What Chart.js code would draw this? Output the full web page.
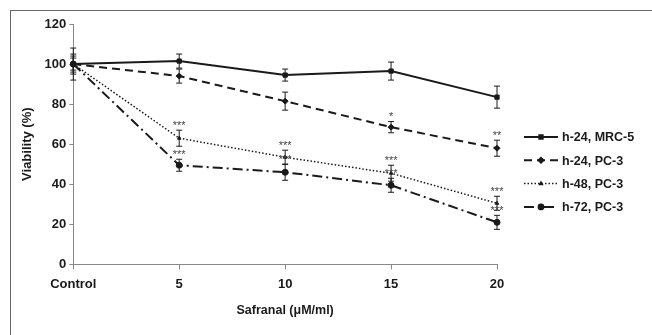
<!DOCTYPE html>
<html>
<head>
<meta charset="utf-8">
<script src="https://cdn.jsdelivr.net/npm/chart.js@4.4.1/dist/chart.umd.min.js"></script>
<style>
  html, body { margin: 0; padding: 0; background: #fff; overflow: hidden; }
  #marco { position: absolute; left: 10px; top: 10px; width: 700px; height: 400px; border: 1px solid #666; }
  #caja { position: absolute; left: 0; top: 0; width: 652px; height: 335px; }
</style>
</head>
<body>
<div id="marco"></div>
<div id="caja"><canvas id="grafico"></canvas></div>
<script>
// datos
const categorias = ['Control', '5', '10', '15', '20'];
const nombresSeries = ['h-24, MRC-5', 'h-24, PC-3', 'h-48, PC-3', 'h-72, PC-3'];

const mrc5_24 = [100, 101.5, 94.5, 96.5, 83.5];
const pc3_24 = [100, 94, 81.5, 68.5, 58];
const pc3_48 = [100, 63, 53.5, 45.5, 30.5];
const pc3_72 = [100, 49.5, 46, 39.5, 21];

const errMrc5_24 = [8, 3.5, 3, 4.5, 5.5];
const errPc3_24 = [5, 3.5, 4.5, 2.8, 4];
const errPc3_48 = [4, 4, 3.5, 4, 3.5];
const errPc3_72 = [3, 3, 4, 3.5, 3.5];

const estrellasMrc5_24 = ['', '', '', '', ''];
const estrellasPc3_24 = ['', '', '', '*', '**'];
const estrellasPc3_48 = ['', '***', '***', '***', '***'];
const estrellasPc3_72 = ['', '***', '***', '***', '***'];

const ticksY = [0, 20, 40, 60, 80, 100, 120];

const valores = [mrc5_24, pc3_24, pc3_48, pc3_72];
const errores = [errMrc5_24, errPc3_24, errPc3_48, errPc3_72];
const estrellas = [estrellasMrc5_24, estrellasPc3_24, estrellasPc3_48, estrellasPc3_72];

// estilos de cada serie
const estilos = [
    { dash: [], ancho: 2, punto: 'rect', radio: 3 },
    { dash: [8, 5], ancho: 2, punto: 'rectRot', radio: 3 },
    { dash: [1.5, 2], ancho: 1.5, punto: 'triangle', radio: 2 },
    { dash: [10, 4, 2, 4], ancho: 2, punto: 'circle', radio: 3 }
];

const fuente = 'Liberation Sans, Arial, sans-serif';
const negro = '#1a1a1a';

// barras de error y asteriscos
const pluginErrores = {
    id: 'errores',
    afterDatasetsDraw(chart) {
        const ctx = chart.ctx;
        const y = chart.scales.y;
        ctx.save();
        ctx.strokeStyle = negro;
        ctx.lineWidth = 1;
        chart.data.datasets.forEach((ds, i) => {
            const meta = chart.getDatasetMeta(i);
            meta.data.forEach((p, j) => {
                const v = ds.data[j];
                const e = errores[i][j];
                const yArriba = y.getPixelForValue(v + e);
                const yAbajo = y.getPixelForValue(v - e);
                ctx.beginPath();
                ctx.moveTo(p.x, yArriba); ctx.lineTo(p.x, yAbajo);
                ctx.moveTo(p.x - 3, yArriba); ctx.lineTo(p.x + 3, yArriba);
                ctx.moveTo(p.x - 3, yAbajo); ctx.lineTo(p.x + 3, yAbajo);
                ctx.stroke();
                let txt = estrellas[i][j];
                if (txt) {
                    ctx.fillStyle = '#444';
                    ctx.font = '11px ' + fuente;
                    ctx.textAlign = 'center';
                    ctx.textBaseline = 'bottom';
                    ctx.fillText(txt, p.x, yArriba + 1);
                }
            });
        });
        ctx.restore();
    }
};

// leyenda a la derecha con el estilo de linea
const pluginLeyenda = {
    id: 'leyenda',
    afterDraw(chart) {
        const ctx = chart.ctx;
        const x0 = chart.chartArea.right + 27;
        const y0 = 137;
        ctx.save();
        chart.data.datasets.forEach((ds, i) => {
            const yy = y0 + i * 23.3;
            const est = estilos[i];
            ctx.strokeStyle = negro;
            ctx.lineWidth = est.ancho;
            ctx.setLineDash(est.dash);
            ctx.beginPath();
            ctx.moveTo(x0, yy); ctx.lineTo(x0 + 34, yy);
            ctx.stroke();
            ctx.setLineDash([]);
            ctx.fillStyle = negro;
            Chart.helpers.drawPoint(ctx, { pointStyle: est.punto, radius: est.radio * 0.8, borderWidth: 1 }, x0 + 17, yy);
            ctx.font = 'bold 12.5px ' + fuente;
            ctx.textAlign = 'left';
            ctx.textBaseline = 'middle';
            ctx.fillText(ds.label, x0 + 38, yy + 1);
        });
        ctx.restore();
    }
};

const datasets = valores.map((serie, i) => ({
    label: nombresSeries[i],
    data: serie,
    borderColor: negro,
    backgroundColor: negro,
    borderWidth: estilos[i].ancho,
    borderDash: estilos[i].dash,
    pointStyle: estilos[i].punto,
    pointRadius: estilos[i].radio,
    pointBorderWidth: 1,
    tension: 0,
    fill: false
}));

new Chart(document.getElementById('grafico'), {
    type: 'line',
    data: { labels: categorias, datasets: datasets },
    options: {
        responsive: true,
        maintainAspectRatio: false,
        animation: false,
        layout: { padding: { top: 24, right: 155, left: 16, bottom: 13 } },
        plugins: {
            legend: { display: false },
            tooltip: { enabled: false }
        },
        scales: {
            x: {
                offset: false,
                border: { color: '#888', width: 1 },
                grid: { drawOnChartArea: false, drawTicks: true, tickLength: 5, color: '#888' },
                ticks: { color: negro, font: { family: fuente, size: 13, weight: 'bold' }, padding: 7 },
                title: { display: true, text: 'Safranal (μM/ml)', color: negro, font: { family: fuente, size: 12.5, weight: 'bold' }, padding: { top: 4 } }
            },
            y: {
                min: 0,
                max: 120,
                afterBuildTicks: ax => { ax.ticks = ticksY.map(v => ({ value: v })); },
                border: { color: '#888', width: 1 },
                grid: { drawOnChartArea: false, drawTicks: true, tickLength: 4, color: '#888' },
                ticks: { color: negro, font: { family: fuente, size: 13, weight: 'bold' }, padding: 3 },
                title: { display: true, text: 'Viability (%)', color: negro, font: { family: fuente, size: 13, weight: 'bold' }, padding: { bottom: 6 } }
            }
        }
    },
    plugins: [pluginErrores, pluginLeyenda]
});
</script>
</body>
</html>
